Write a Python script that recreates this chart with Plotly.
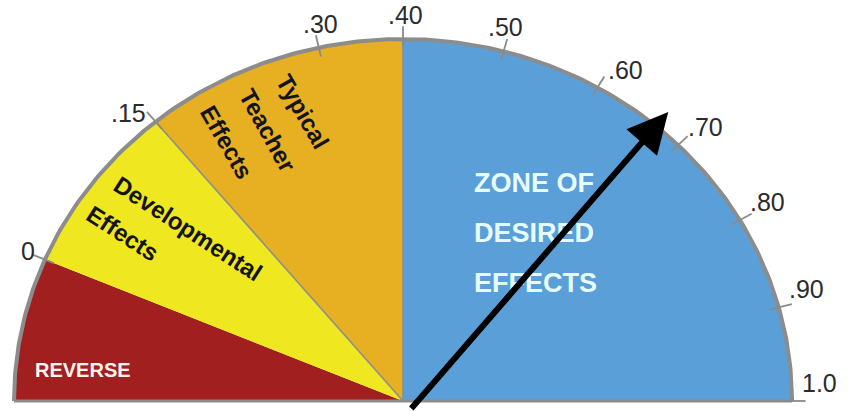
import numpy as np
import plotly.graph_objects as go

# ---------------- data ----------------
zone_names = ["REVERSE", "Developmental Effects", "Typical Teacher Effects", "ZONE OF DESIRED EFFECTS"]
zone_start = [-0.20, 0.00, 0.15, 0.40]
zone_end = [0.00, 0.15, 0.40, 1.00]
zone_colors = ["#A11F1F", "#EFE71F", "#E7AF22", "#5B9FD9"]

tick_values = [0.0, 0.15, 0.30, 0.40, 0.50, 0.60, 0.70, 0.80, 0.90, 1.0]
tick_labels = ["0", ".15", ".30", ".40", ".50", ".60", ".70", ".80", ".90", "1.0"]

needle_value = 0.67

# angular scale of the barometer (value -> degrees)
scale_values = [-0.20, 0.00, 0.15, 0.30, 0.40, 1.00]
scale_angles = [180.0, 157.0, 129.5, 102.5, 90.0, 0.0]

# ---------------- layout constants ----------------
W, H = 852, 411
CX, CY = 403, 401      # centre pixel
RX, RY = 389, 362      # radii in pixels


def ang(v):
    return np.radians(np.interp(v, scale_values, scale_angles))


def pt(v, r=1.0):
    a = ang(v)
    return r * np.cos(a), r * np.sin(a)


def paper(px, py):
    return px / W, 1 - py / H


fig = go.Figure()

# wedges
for name, s, e, c in zip(zone_names, zone_start, zone_end, zone_colors):
    vals = np.linspace(s, e, 80)
    xs = [0.0] + [pt(v)[0] for v in vals] + [0.0]
    ys = [0.0] + [pt(v)[1] for v in vals] + [0.0]
    fig.add_trace(go.Scatter(x=xs, y=ys, fill="toself", fillcolor=c, mode="lines",
                             line=dict(width=0, color=c), hoverinfo="skip", showlegend=False))

# boundary lines between zones
for b in [0.15, 0.40]:
    x1, y1 = pt(b)
    fig.add_trace(go.Scatter(x=[0, x1], y=[0, y1], mode="lines",
                             line=dict(color="#8E8E8E", width=1.6), hoverinfo="skip", showlegend=False))

# outer arc and baseline
arc_vals = np.linspace(scale_values[0], scale_values[-1], 300)
fig.add_trace(go.Scatter(x=[pt(v)[0] for v in arc_vals], y=[pt(v)[1] for v in arc_vals], mode="lines",
                         line=dict(color="#8C8C8C", width=4), hoverinfo="skip", showlegend=False))
fig.add_trace(go.Scatter(x=[pt(scale_values[0])[0], pt(scale_values[-1])[0]], y=[0, 0], mode="lines",
                         line=dict(color="#8C8C8C", width=3), hoverinfo="skip", showlegend=False))

# tick marks
for v in tick_values:
    xa, ya = pt(v, 0.975)
    xb, yb = pt(v, 1.035)
    fig.add_trace(go.Scatter(x=[xa, xb], y=[ya, yb], mode="lines",
                             line=dict(color="#8A8A8A", width=1.8), hoverinfo="skip", showlegend=False))

# tick labels
for v, lab in zip(tick_values, tick_labels):
    x, y = pt(v, 1.0)
    deg = np.degrees(ang(v))
    if 70 <= deg <= 110:
        xa, xs, ys = "center", 2, 24
    elif deg < 70:
        xa, xs, ys = "left", 8, 18
    else:
        xa, xs, ys = "right", -8, 9
    fig.add_annotation(x=x, y=y, xref="x", yref="y", text=lab, showarrow=False,
                       xanchor=xa, yanchor="middle", xshift=xs, yshift=ys,
                       font=dict(family="Liberation Sans, Arial, sans-serif", size=25, color="#2B2B2B"))

# zone labels
bold = "Liberation Sans, Arial, sans-serif"

px_, py_ = paper(83, 370)
fig.add_annotation(x=px_, y=py_, xref="paper", yref="paper", text="<b>REVERSE</b>", showarrow=False,
                   xanchor="center", yanchor="middle",
                   font=dict(family=bold, size=20, color="#FFF4F0"))

for line, (lx, ly) in zip(["ZONE OF", "DESIRED", "EFFECTS"], [(472, 183), (472, 233), (472, 283)]):
    px_, py_ = paper(lx, ly)
    fig.add_annotation(x=px_, y=py_, xref="paper", yref="paper", text="<b>%s</b>" % line, showarrow=False,
                       xanchor="left", yanchor="middle",
                       font=dict(family=bold, size=27, color="#E6FCFF"))

for line, (lx, ly), a in [("Developmental", (188, 228), 33), ("Effects", (123, 233), 33),
                          ("Typical", (303, 111), 60), ("Teacher", (268, 130), 61), ("Effects", (227, 142), 60)]:
    px_, py_ = paper(lx, ly)
    fig.add_annotation(x=px_, y=py_, xref="paper", yref="paper", text="<b>%s</b>" % line, showarrow=False,
                       textangle=a, xanchor="center", yanchor="middle",
                       font=dict(family=bold, size=24, color="#141414"))

# needle arrow
tx, ty = pt(needle_value, 1.05)
fig.add_annotation(x=tx, y=ty, xref="x", yref="y", ax=0.018, ay=-0.025, axref="x", ayref="y",
                   text="", showarrow=True, arrowhead=2, arrowsize=1.35, arrowwidth=6, arrowcolor="#000000")

fig.update_layout(
    width=W, height=H, margin=dict(l=0, r=0, t=0, b=0),
    paper_bgcolor="white", plot_bgcolor="white", showlegend=False,
    xaxis=dict(range=[-CX / RX, (W - CX) / RX], visible=False, fixedrange=True),
    yaxis=dict(range=[-(H - CY) / RY, CY / RY], visible=False, fixedrange=True),
)

fig.write_html("out.html")
